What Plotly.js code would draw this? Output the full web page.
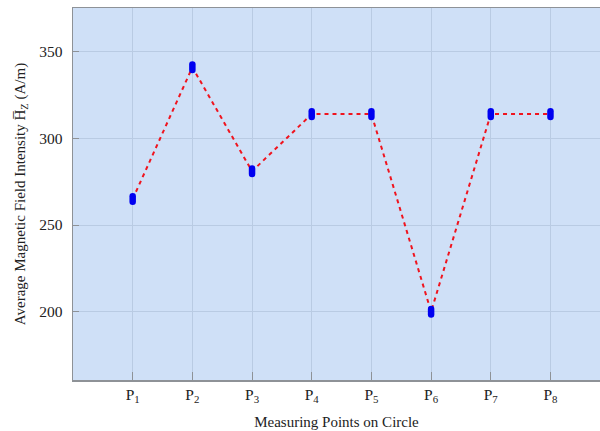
<!DOCTYPE html>
<html>
<head>
<meta charset="utf-8">
<script src="https://cdn.plot.ly/plotly-3.0.1.min.js"></script>
<style>
html,body{margin:0;padding:0;background:#fff;}
#chart{width:600px;height:431px;}
#chart .scatterlayer path.point{stroke-linecap:round;}
</style>
</head>
<body>
<div id="chart"></div>
<script>
const categories = [1, 2, 3, 4, 5, 6, 7, 8];
const tickLabels = ['P<sub>1</sub>','P<sub>2</sub>','P<sub>3</sub>','P<sub>4</sub>','P<sub>5</sub>','P<sub>6</sub>','P<sub>7</sub>','P<sub>8</sub>'];
const fieldValues = [265, 341, 281, 314, 314, 200, 314, 314];
const yTicks = [200, 250, 300, 350];

const fam = '"Liberation Serif", "Times New Roman", serif';
const tickFont = {family: fam, size: 15.5, color: '#222'};
const titleFont = {family: fam, size: 15, color: '#222'};

const traces = [
  {
    x: categories, y: fieldValues, type: 'scatter', mode: 'lines',
    line: {color: '#f0141e', width: 2, dash: '4px,4px'},
    hoverinfo: 'skip', showlegend: false
  },
  {
    x: categories, y: fieldValues, type: 'scatter', mode: 'markers',
    marker: {symbol: 'line-ns', size: 4, color: '#0000f0', line: {color: '#0000f0', width: 6.5}},
    showlegend: false
  }
];

const layout = {
  width: 600, height: 431,
  margin: {l: 73, r: 0, t: 8, b: 51},
  paper_bgcolor: '#ffffff',
  plot_bgcolor: '#cfe0f7',
  font: titleFont,
  xaxis: {
    range: [0, 8.83],
    tickmode: 'array', tickvals: categories, ticktext: tickLabels,
    showgrid: true, gridcolor: '#b9cbe3', gridwidth: 1,
    zeroline: false,
    showline: true, linecolor: '#8e9297', linewidth: 1.5, mirror: true,
    ticks: 'inside', ticklen: 8, tickcolor: '#8e9297', tickwidth: 1,
    tickfont: tickFont,
    title: {text: 'Measuring Points on Circle', font: titleFont, standoff: 12}
  },
  yaxis: {
    range: [160.6, 375.2],
    tickmode: 'array', tickvals: yTicks,
    showgrid: true, gridcolor: '#b9cbe3', gridwidth: 1,
    zeroline: false,
    showline: true, linecolor: '#8e9297', linewidth: 1.5, mirror: true,
    ticks: 'inside', ticklen: 6, tickcolor: '#8e9297', tickwidth: 1,
    tickfont: tickFont, ticklabelstandoff: 6,
    title: {text: 'Average Magnetic Field Intensity H\u0305<sub>Z</sub> (A/m)', font: titleFont, standoff: 10}
  }
};

Plotly.newPlot('chart', traces, layout, {displayModeBar: false, staticPlot: true});
</script>
</body>
</html>
